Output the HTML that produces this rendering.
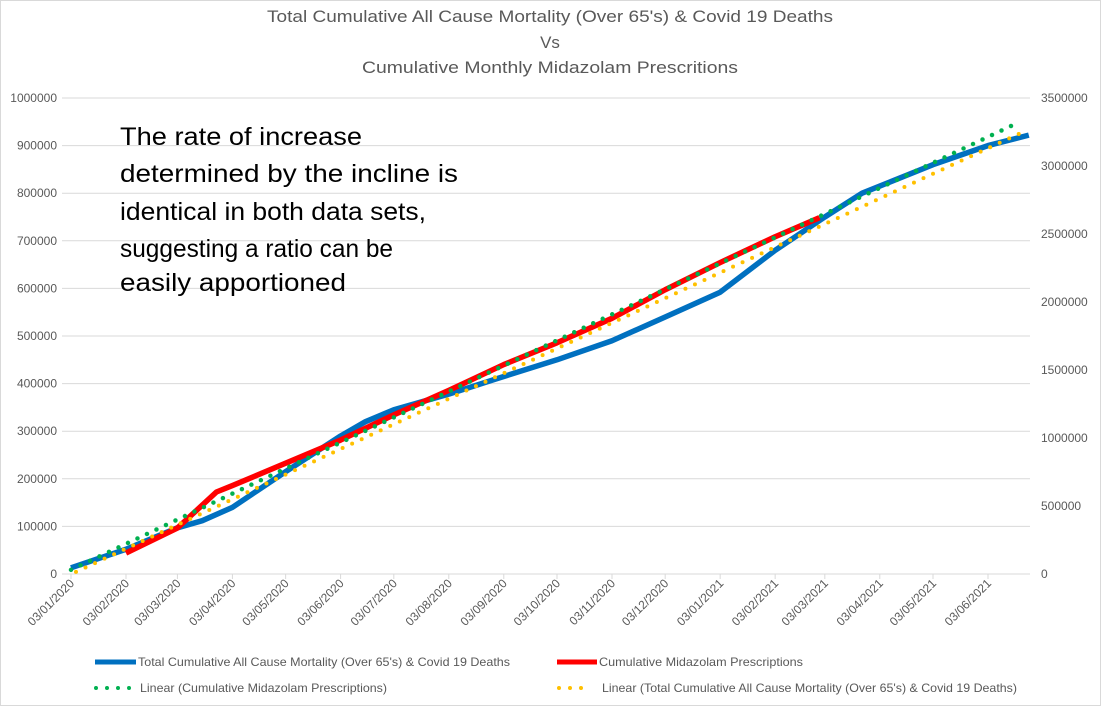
<!DOCTYPE html>
<html><head><meta charset="utf-8"><style>
html,body{margin:0;padding:0;background:#fff;}
svg{display:block;font-family:"Liberation Sans",sans-serif;}
</style></head><body>
<svg id="chart" width="1104" height="706" viewBox="0 0 1104 706">
<rect x="0.5" y="0.5" width="1100" height="705" fill="#fff" stroke="#d9d9d9"/>
<g fill="#595959" font-size="17" text-anchor="middle">
<text x="550" y="22" textLength="566" lengthAdjust="spacingAndGlyphs">Total Cumulative All Cause Mortality (Over 65's) &amp; Covid 19 Deaths</text>
<text x="550" y="48">Vs</text>
<text x="550" y="73" textLength="376" lengthAdjust="spacingAndGlyphs">Cumulative Monthly Midazolam Prescritions</text>
</g>
<g id="grid"></g><g id="yl"></g><g id="yr"></g><g id="xt"></g><g id="series"></g><g id="trends"></g>
<g fill="#000" font-size="25">
<text x="120" y="145" textLength="242" lengthAdjust="spacingAndGlyphs">The rate of increase</text>
<text x="120" y="182" textLength="338" lengthAdjust="spacingAndGlyphs">determined by the incline is</text>
<text x="120" y="220" textLength="306" lengthAdjust="spacingAndGlyphs">identical in both data sets,</text>
<text x="120" y="257" textLength="273" lengthAdjust="spacingAndGlyphs">suggesting a ratio can be</text>
<text x="120" y="291" textLength="226" lengthAdjust="spacingAndGlyphs">easily apportioned</text>
</g>
<g font-size="12" fill="#595959">
<line x1="95" y1="662" x2="136" y2="662" stroke="#0070c0" stroke-width="5"/>
<text x="138" y="666" textLength="372" lengthAdjust="spacingAndGlyphs">Total Cumulative All Cause Mortality (Over 65's) &amp; Covid 19 Deaths</text>
<line x1="557" y1="662" x2="597" y2="662" stroke="#ff0000" stroke-width="5"/>
<text x="599" y="666" textLength="204" lengthAdjust="spacingAndGlyphs">Cumulative Midazolam Prescriptions</text>
<line x1="96" y1="688" x2="132" y2="688" stroke="#00b050" stroke-width="4" stroke-linecap="round" stroke-dasharray="0 11"/>
<text x="140" y="692" textLength="247" lengthAdjust="spacingAndGlyphs">Linear (Cumulative Midazolam Prescriptions)</text>
<line x1="559" y1="688" x2="592" y2="688" stroke="#ffc000" stroke-width="4" stroke-linecap="round" stroke-dasharray="0 11"/>
<text x="602" y="692" textLength="415" lengthAdjust="spacingAndGlyphs">Linear (Total Cumulative All Cause Mortality (Over 65's) &amp; Covid 19 Deaths)</text>
</g>
</svg>
<script>
const tickLabels=["03/01/2020","03/02/2020","03/03/2020","03/04/2020","03/05/2020","03/06/2020","03/07/2020","03/08/2020","03/09/2020","03/10/2020","03/11/2020","03/12/2020","03/01/2021","03/02/2021","03/03/2021","03/04/2021","03/05/2021","03/06/2021"];
const leftTicks=[0,100000,200000,300000,400000,500000,600000,700000,800000,900000,1000000];
const rightTicks=[0,500000,1000000,1500000,2000000,2500000,3000000,3500000];
const mortDates=["2020-01-03","2020-02-03","2020-03-03","2020-03-17","2020-04-03","2020-04-17","2020-05-03","2020-06-03","2020-06-17","2020-07-03","2020-08-03","2020-09-03","2020-10-03","2020-11-03","2020-12-03","2021-01-03","2021-02-03","2021-03-03","2021-03-24","2021-04-03","2021-05-03","2021-06-03","2021-06-26"];
const mortValues=[13000,52000,97000,112000,140000,175000,215000,290000,320000,345000,378000,415000,450000,490000,540000,592000,680000,750000,800000,815000,860000,900000,922000];
const midDates=["2020-02-03","2020-03-03","2020-03-25","2020-04-03","2020-06-03","2020-07-03","2020-08-03","2020-09-03","2020-10-03","2020-11-03","2020-12-03","2021-01-03","2021-02-03","2021-02-28"];
const midValues=[154000,338000,603000,650000,985000,1170000,1350000,1540000,1700000,1880000,2090000,2290000,2480000,2620000];
const NS="http://www.w3.org/2000/svg";
const X0=71,D0=Date.UTC(2020,0,3),PXD=917/517,Y0=574,H=476;
function day(s){const p=s.split("-");return (Date.UTC(+p[0],+p[1]-1,+p[2])-D0)/864e5;}
function tday(l){const p=l.split("/");return day(p[2]+"-"+p[1]+"-"+p[0]);}
function xs(d){return X0+d*PXD;}
function yL(v){return Y0-v/1000000*H;}
function yR(v){return Y0-v/3500000*H;}
function mk(tag,at,par){const e=document.createElementNS(NS,tag);for(const k in at)e.setAttribute(k,at[k]);document.getElementById(par).appendChild(e);return e;}
leftTicks.forEach(v=>{
 const g=mk("line",{x1:62,x2:1030,y1:yL(v),y2:yL(v),stroke:"#d9d9d9","stroke-width":1},"grid");
 
 
 const t=mk("text",{x:57,y:yL(v)+4,"text-anchor":"end","font-size":12,fill:"#595959"},"yl");
 t.textContent=v;
 
 
});
rightTicks.forEach(v=>{
 const t=mk("text",{x:1041,y:yR(v)+4,"font-size":12,fill:"#595959"},"yr");
 t.textContent=v;
 
 
});
tickLabels.forEach(l=>{
 const x=xs(tday(l));
 const tk=mk("line",{x1:x,x2:x,y1:574,y2:579,stroke:"#d9d9d9"},"xt");
 
 
 const t=mk("text",{x:x+4,y:584,"text-anchor":"end","font-size":12,fill:"#595959",transform:`rotate(-45 ${x+4} 584)`},"xt");
 t.textContent=l;
 
 
});
function fit(ds,vs){const xsD=ds.map(day);const n=xsD.length;const mx=xsD.reduce((a,b)=>a+b)/n,my=vs.reduce((a,b)=>a+b)/n;let sxy=0,sxx=0;for(let i=0;i<n;i++){sxy+=(xsD[i]-mx)*(vs[i]-my);sxx+=(xsD[i]-mx)**2;}const b=sxy/sxx;return [my-b*mx,b];}
const dEnd=537;
const pm=mk("polyline",{points:mortDates.map((d,i)=>xs(day(d))+","+yL(mortValues[i])).join(" "),fill:"none",stroke:"#0070c0","stroke-width":5.5,"stroke-linejoin":"round"},"series");


const pr=mk("polyline",{points:midDates.map((d,i)=>xs(day(d))+","+yR(midValues[i])).join(" "),fill:"none",stroke:"#ff0000","stroke-width":5.5,"stroke-linejoin":"round"},"series");


const fm=fit(midDates,midValues);
const tg=mk("line",{x1:xs(0),y1:yR(fm[0]),x2:xs(dEnd-6),y2:yR(fm[0]+fm[1]*(dEnd-6)),stroke:"#00b050","stroke-width":4.5,"stroke-linecap":"round","stroke-dasharray":"0 10.5"},"trends");


const fo=fit(mortDates,mortValues);
const ty=mk("line",{x1:xs(0),y1:yL(fo[0]),x2:xs(dEnd),y2:yL(fo[0]+fo[1]*dEnd),stroke:"#ffc000","stroke-width":4,"stroke-linecap":"round","stroke-dasharray":"0 10.5","stroke-dashoffset":5},"trends");


</script>
</body></html>
